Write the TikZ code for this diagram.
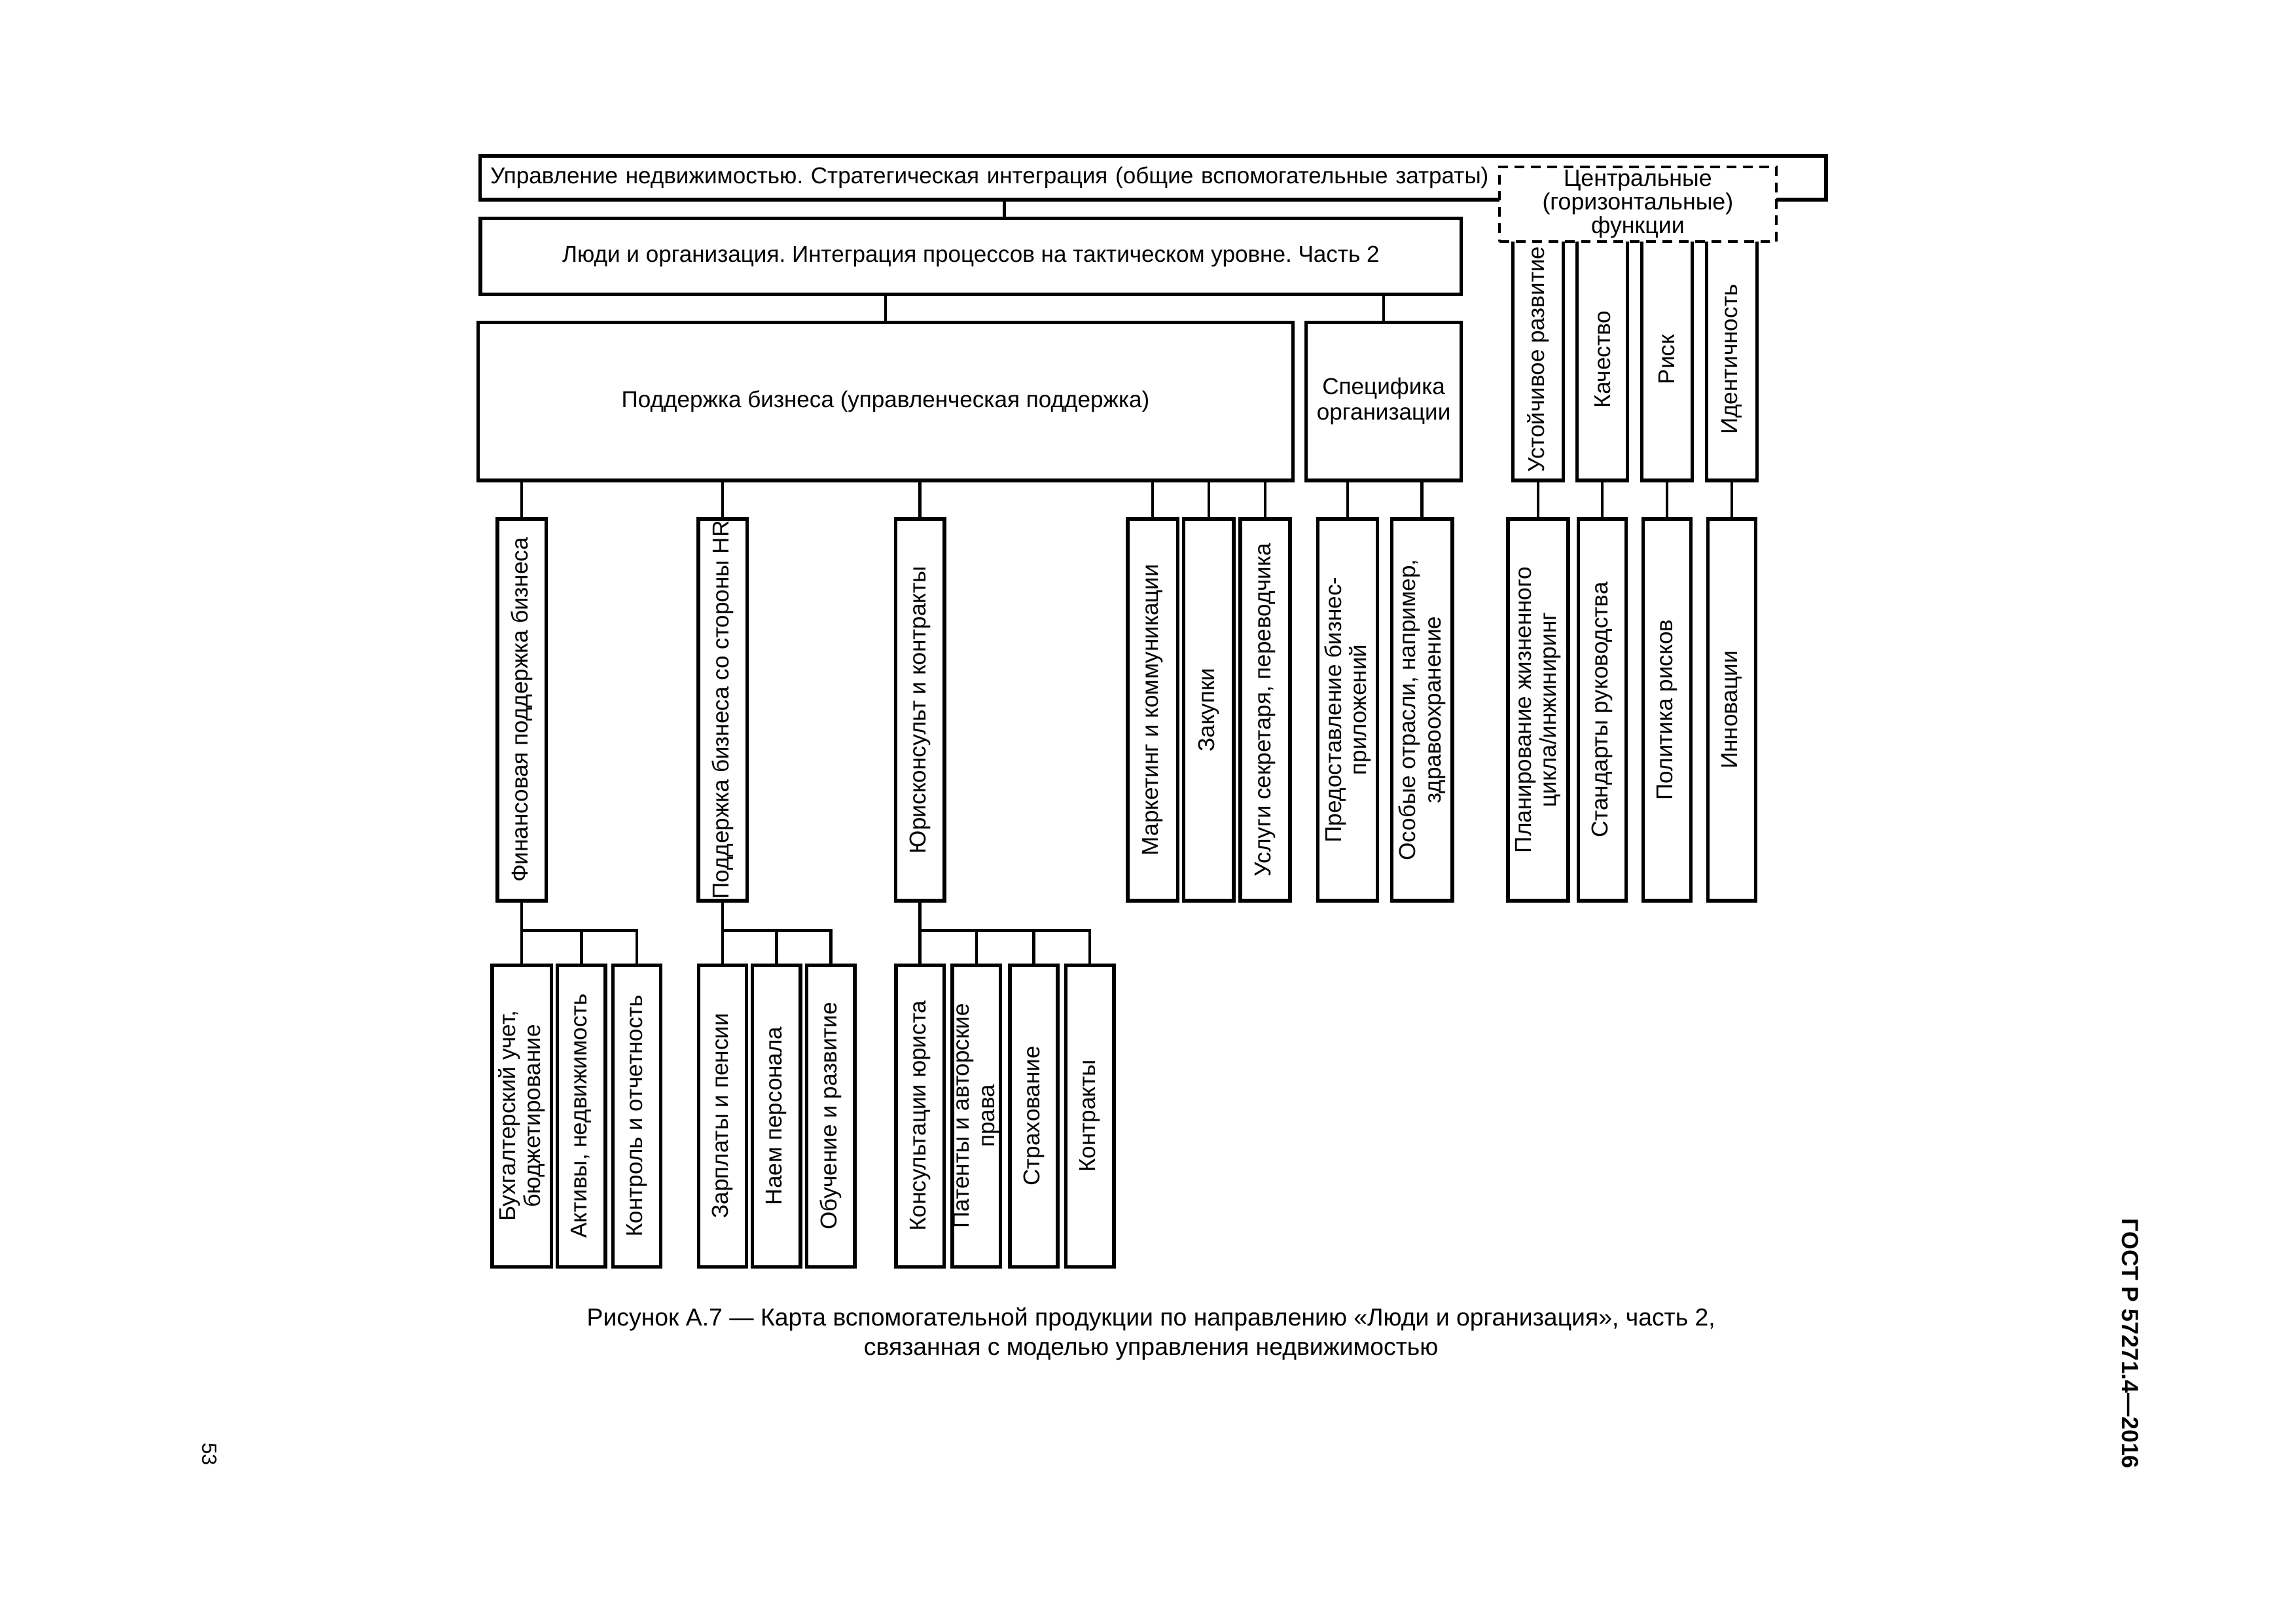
\documentclass[tikz,border=0pt]{standalone}
\usepackage{fontspec}
\setmainfont{Liberation Sans}
\frenchspacing
\newcommand{\boxfont}{\fontsize{8.45}{9.3}\selectfont}
\tikzset{
	box/.style={rectangle, draw=black, line width=1.3pt, fill=white, align=center, inner sep=1pt, font=\boxfont},
	vbox/.style={box, rotate=90, minimum height=0.63cm},
	dashbox/.style={box, line width=0.9pt, dash pattern=on 3.6pt off 2.4pt},
	link/.style={line width=1.1pt, draw=black},
}

\begin{document}
\begin{tikzpicture}
	\useasboundingbox (0,0) rectangle (29.7,-21);
		% top levels
		\node[box, text width=17.147cm, align=left, inner xsep=0.13cm, minimum height=0.566cm] (strat) at (14.916,-2.298) {Управление недвижимостью. Стратегическая интеграция (общие вспомогательные затраты)};
		\node[box, minimum width=12.69cm, minimum height=0.985cm] (ludi) at (12.558,-3.315) {Люди и организация. Интеграция процессов на тактическом уровне. Часть 2};
		\node[box, minimum width=10.541cm, minimum height=2.046cm] (podd) at (11.455,-5.19) {Поддержка бизнеса (управленческая поддержка)};
		\node[box, minimum width=2.008cm, minimum height=2.046cm] (spec) at (17.899,-5.19) {Специфика\\организации};
		% central functions
		\node[vbox, minimum width=3.125cm, minimum height=0.652cm] (ust) at (19.895,-4.65) {Устойчивое развитие};
		\node[vbox, minimum width=3.125cm, minimum height=0.652cm] (kach) at (20.727,-4.65) {Качество};
		\node[vbox, minimum width=3.125cm, minimum height=0.652cm] (risk) at (21.564,-4.65) {Риск};
		\node[vbox, minimum width=3.125cm, minimum height=0.652cm] (ident) at (22.403,-4.65) {Идентичность};
		\node[dashbox, minimum width=3.58cm, minimum height=0.966cm, inner ysep=0pt, font=\fontsize{8.6}{8.7}\selectfont] (central) at (21.186,-2.642) {Центральные\\(горизонтальные)\\функции};
		% second level
		\node[vbox, minimum width=4.934cm] (fin) at (6.749,-9.182) {Финансовая поддержка бизнеса};
		\node[vbox, minimum width=4.934cm, inner sep=0pt] (hr) at (9.347,-9.182) {Поддержка бизнеса со стороны HR};
		\node[vbox, minimum width=4.934cm] (jur) at (11.901,-9.182) {Юрисконсульт и контракты};
		\node[vbox, minimum width=4.934cm, minimum height=0.646cm] (mark) at (14.91,-9.182) {Маркетинг и коммуникации};
		\node[vbox, minimum width=4.934cm, minimum height=0.646cm] (zak) at (15.636,-9.182) {Закупки};
		\node[vbox, minimum width=4.934cm, minimum height=0.646cm] (usl) at (16.365,-9.182) {Услуги секретаря, переводчика};
		\node[vbox, minimum width=4.934cm, minimum height=0.773cm] (pred) at (17.433,-9.182) {Предоставление бизнес-\\приложений};
		\node[vbox, minimum width=4.934cm, minimum height=0.784cm] (osob) at (18.395,-9.182) {Особые отрасли, например,\\здравоохранение};
		\node[vbox, minimum width=4.934cm, minimum height=0.777cm] (plan) at (19.895,-9.182) {Планирование жизненного\\цикла/инжиниринг};
		\node[vbox, minimum width=4.934cm, minimum height=0.617cm] (stand) at (20.727,-9.182) {Стандарты руководства};
		\node[vbox, minimum width=4.934cm, minimum height=0.617cm] (polit) at (21.564,-9.182) {Политика рисков};
		\node[vbox, minimum width=4.934cm, minimum height=0.617cm] (innov) at (22.403,-9.182) {Инновации};
		% third level
		\node[vbox, minimum width=3.902cm, minimum height=0.765cm] (buh) at (6.749,-14.433) {Бухгалтерский учет,\\бюджетирование};
		\node[vbox, minimum width=3.902cm, minimum height=0.62cm] (aktiv) at (7.521,-14.433) {Активы, недвижимость};
		\node[vbox, minimum width=3.902cm, minimum height=0.62cm] (kontr) at (8.239,-14.433) {Контроль и отчетность};
		\node[vbox, minimum width=3.902cm, minimum height=0.62cm] (zarp) at (9.347,-14.433) {Зарплаты и пенсии};
		\node[vbox, minimum width=3.902cm, minimum height=0.62cm] (naem) at (10.043,-14.433) {Наем персонала};
		\node[vbox, minimum width=3.902cm, minimum height=0.62cm] (obuch) at (10.747,-14.433) {Обучение и развитие};
		\node[vbox, minimum width=3.902cm, minimum height=0.62cm] (kons) at (11.901,-14.433) {Консультации юриста};
		\node[vbox, minimum width=3.902cm, minimum height=0.62cm, inner sep=0pt] (pat) at (12.63,-14.433) {Патенты и авторские\\права};
		\node[vbox, minimum width=3.902cm, minimum height=0.62cm] (strah) at (13.372,-14.433) {Страхование};
		\node[vbox, minimum width=3.902cm, minimum height=0.62cm] (kontrakt) at (14.098,-14.433) {Контракты};
		% caption and page marks
		\node[font=\fontsize{9}{10.8}\selectfont, align=center] (caption) at (14.89,-17.255) {Рисунок А.7 — Карта вспомогательной продукции по направлению «Люди и организация», часть 2,\\связанная с моделью управления недвижимостью};
		\node[rotate=-90, font=\bfseries\fontsize{8.6}{10}\selectfont] (gost) at (27.56,-17.38) {ГОСТ Р 57271.4—2016};
		\node[rotate=-90, font=\fontsize{7.5}{9}\selectfont] (page) at (2.715,-18.81) {53};
		% links
		\draw[link] (12.993,0 |- strat.south) -- (12.993,0 |- ludi.north);
		\draw[link] (ludi.south -| podd.north) -- (podd.north);
		\draw[link] (ludi.south -| spec.north) -- (spec.north);
		\draw[link] (podd.south -| fin.east) -- (fin.east);
		\draw[link] (podd.south -| hr.east) -- (hr.east);
		\draw[link] (podd.south -| jur.east) -- (jur.east);
		\draw[link] (podd.south -| mark.east) -- (mark.east);
		\draw[link] (podd.south -| zak.east) -- (zak.east);
		\draw[link] (podd.south -| usl.east) -- (usl.east);
		\draw[link] (spec.south -| pred.east) -- (pred.east);
		\draw[link] (spec.south -| osob.east) -- (osob.east);
		\draw[link] (ust.west) -- (plan.east);
		\draw[link] (kach.west) -- (stand.east);
		\draw[link] (risk.west) -- (polit.east);
		\draw[link] (ident.west) -- (innov.east);
		\draw[link] (fin.west) -- (buh.east);
		\draw[link] (fin.west) -- ++(0,-0.363) -| (aktiv.east);
		\draw[link] (fin.west) -- ++(0,-0.363) -| (kontr.east);
		\draw[link] (hr.west) -- (zarp.east);
		\draw[link] (hr.west) -- ++(0,-0.363) -| (naem.east);
		\draw[link] (hr.west) -- ++(0,-0.363) -| (obuch.east);
		\draw[link] (jur.west) -- (kons.east);
		\draw[link] (jur.west) -- ++(0,-0.363) -| (pat.east);
		\draw[link] (jur.west) -- ++(0,-0.363) -| (strah.east);
		\draw[link] (jur.west) -- ++(0,-0.363) -| (kontrakt.east);
\end{tikzpicture}
\end{document}
